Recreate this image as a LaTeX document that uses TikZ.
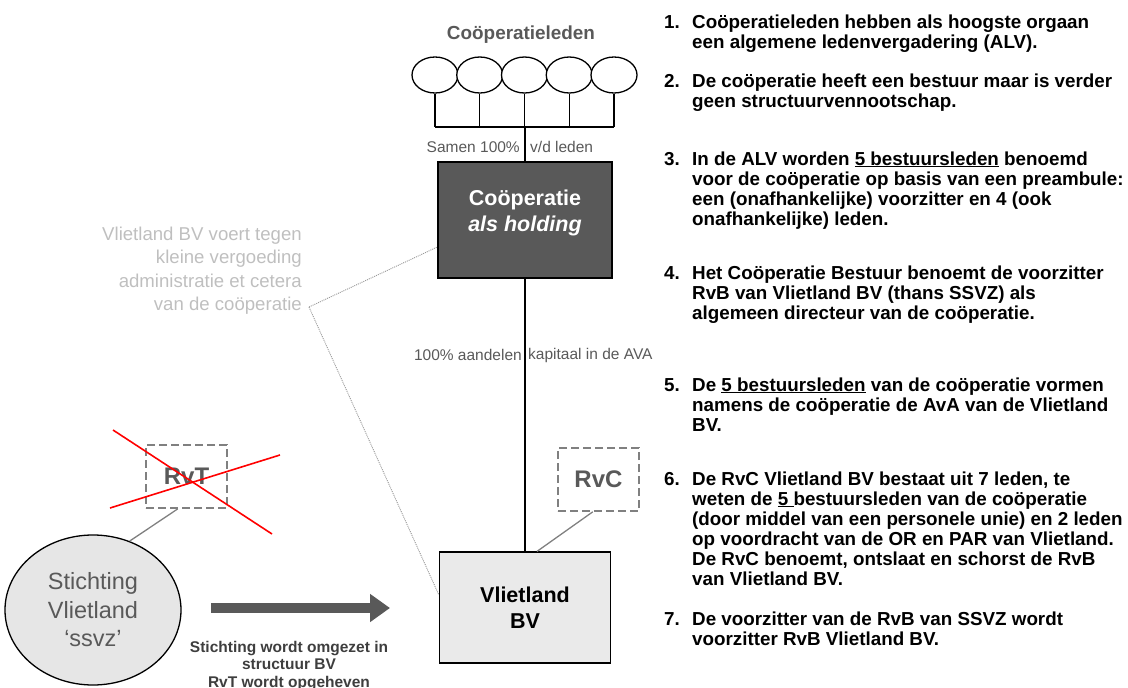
\documentclass[tikz,border=0pt]{standalone}
\usepackage{fontspec}
\setmainfont{Liberation Sans}
\definecolor{boxdark}{HTML}{595959}
\definecolor{boxlight}{HTML}{EAEAEA}
\definecolor{ballfill}{HTML}{E6E6E6}
\definecolor{textgray}{HTML}{595959}
\definecolor{notegray}{HTML}{BFBFBF}
\definecolor{linegray}{HTML}{808080}
\definecolor{crossred}{HTML}{FF0000}
\usetikzlibrary{shapes.geometric, arrows.meta, positioning, calc}
\tikzset{
  member/.style={
    ellipse, draw=black, line width=1.3pt, fill=white,
    minimum width=46pt, minimum height=36pt, inner sep=0pt
  },
  holding/.style={
    draw=black, fill=boxdark, line width=1.2pt,
    minimum width=174pt, minimum height=116pt,
    text=white, align=center, font=\fontsize{21.5}{26}\selectfont\bfseries
  },
  company/.style={
    draw=black, fill=boxlight, line width=1.2pt,
    minimum width=171pt, minimum height=111pt,
    text=black, align=center, font=\fontsize{21.5}{26}\selectfont\bfseries
  },
  board/.style={
    draw=linegray, dash pattern=on 8pt off 4pt, line width=1.6pt,
    minimum width=81pt, minimum height=63pt,
    text=textgray, font=\fontsize{24}{28}\selectfont\bfseries
  },
  foundation/.style={
    ellipse, draw=black, fill=ballfill, line width=1.3pt,
    minimum width=176pt, minimum height=150pt, inner sep=0pt,
    text=textgray, align=center, font=\fontsize{23.5}{28.5}\selectfont
  },
  lbl/.style={font=\fontsize{15.5}{18}\selectfont, text=textgray, inner sep=0pt},
  note/.style={font=\fontsize{18.6}{23.5}\selectfont, text=notegray, align=right, inner sep=0pt},
  listitem/.style={anchor=base west, inner sep=0pt, font=\fontsize{18.8}{20}\selectfont\bfseries},
  trunk/.style={draw=black, line width=1.3pt},
  boardlink/.style={draw=linegray, line width=1.3pt},
  noteline/.style={draw=notegray!80!black, line width=0.9pt, dash pattern=on 1pt off 1pt},
  crossline/.style={draw=crossred, line width=1.6pt},
}

\begin{document}
\begin{tikzpicture}[x=1pt, y=-1pt]
  \useasboundingbox (0,0) rectangle (1128,688);

  % leden en coöperatie
  \node[font=\fontsize{18.9}{22}\selectfont\bfseries, text=textgray] (leden) at (521,35) {Coöperatieleden};
  \foreach \i in {1,...,5}
    \node[member] (m\i) at ({435+44.75*(\i-1)},75) {};
  \coordinate (hub) at (525,127);
  \foreach \i in {1,...,5}
    \draw[trunk] (m\i.south) -- (m\i.south |- hub);
  \draw[trunk] (m1.south |- hub) -- (m5.south |- hub);

  \node[holding] (coop) at (525,220) {Coöperatie\\\textit{als holding}\\[-8pt]};
  \node[company] (bv) at (525,607.5) {Vlietland\\BV};
  \draw[trunk] (hub) -- (coop.north);
  \draw[trunk] (coop.south) -- (bv.north);

  \node[lbl, anchor=east] (samen) at (520,147) {Samen 100\%};
  \node[lbl, anchor=west] (vdleden) at (530,147) {v/d leden};
  \node[lbl, anchor=east] (aandelen) at (522,355) {100\% aandelen};
  \node[lbl, anchor=west] (kapitaal) at (528,355) {kapitaal in de AVA};

  % raden
  \node[board] (rvc) at (598.5,479.5) {RvC};
  \draw[boardlink] (rvc.260) -- ([xshift=12pt]bv.north);

  \node[foundation] (stichting) at (93,610) {Stichting\\Vlietland\\‘ssvz’};
  \node[board] (rvt) at (186.5,476.5) {RvT};
  \draw[boardlink] (rvt.255) -- (stichting.62);
  \draw[crossline] (113,430) -- (272,534);
  \draw[crossline] (110,508) -- (280,455);

  % omzetting
  \coordinate (convstart) at (211,608);
  \coordinate (convend) at (390,608);
  \draw[line width=10pt, boxdark, -{Triangle[length=20pt,width=27pt]}] (convstart) -- (convend);
  \node[font=\fontsize{15.5}{17.5}\selectfont\bfseries, text=boxdark!70!black, align=center]
    (convtext) at (289,666) {Stichting wordt omgezet in\\structuur BV\\RvT wordt opgeheven};

  % administratie
  \node[note, anchor=east] (admin) at (302,270.5)
    {Vlietland BV voert tegen\\kleine vergoeding\\administratie et cetera\\van de coöperatie};
  \coordinate (notetip) at (309,307);
  \draw[noteline] (notetip) -- ([yshift=-27pt]coop.west);
  \draw[noteline] (notetip) -- ([yshift=12.5pt]bv.west);

  % toelichting
  \node[listitem] (item1) at (664,28) {\begin{tabular}[t]{@{}p{28pt}@{}l@{}}
    1.&Coöperatieleden hebben als hoogste orgaan\\
    &een algemene ledenvergadering (ALV).\end{tabular}};
  \node[listitem] (item2) at (664,87) {\begin{tabular}[t]{@{}p{28pt}@{}l@{}}
    2.&De coöperatie heeft een bestuur maar is verder\\
    &geen structuurvennootschap.\end{tabular}};
  \node[listitem] (item3) at (664,165) {\begin{tabular}[t]{@{}p{28pt}@{}l@{}}
    3.&In de ALV worden \underline{5 bestuursleden} benoemd\\
    &voor de coöperatie op basis van een preambule:\\
    &een (onafhankelijke) voorzitter en 4 (ook\\
    &onafhankelijke) leden.\end{tabular}};
  \node[listitem] (item4) at (664,279) {\begin{tabular}[t]{@{}p{28pt}@{}l@{}}
    4.&Het Coöperatie Bestuur benoemt de voorzitter\\
    &RvB van Vlietland BV (thans SSVZ) als\\
    &algemeen directeur van de coöperatie.\end{tabular}};
  \node[listitem] (item5) at (664,391) {\begin{tabular}[t]{@{}p{28pt}@{}l@{}}
    5.&De \underline{5 bestuursleden} van de coöperatie vormen\\
    &namens de coöperatie de AvA van de Vlietland\\
    &BV.\end{tabular}};
  \node[listitem] (item6) at (664,485) {\begin{tabular}[t]{@{}p{28pt}@{}l@{}}
    6.&De RvC Vlietland BV bestaat uit 7 leden, te\\
    &weten de \underline{5\ }bestuursleden van de coöperatie\\
    &(door middel van een personele unie) en 2 leden\\
    &op voordracht van de OR en PAR van Vlietland.\\
    &De RvC benoemt, ontslaat en schorst de RvB\\
    &van Vlietland BV.\end{tabular}};
  \node[listitem] (item7) at (664,625) {\begin{tabular}[t]{@{}p{28pt}@{}l@{}}
    7.&De voorzitter van de RvB van SSVZ wordt\\
    &voorzitter RvB Vlietland BV.\end{tabular}};
\end{tikzpicture}
\end{document}
